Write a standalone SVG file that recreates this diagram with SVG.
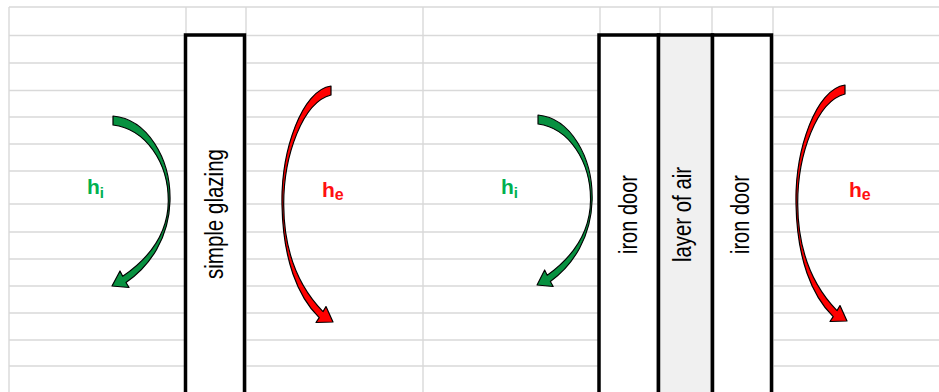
<svg xmlns="http://www.w3.org/2000/svg" width="939" height="392" viewBox="0 0 939 392">
<style>
.grid line{stroke:#d9d9d9;stroke-width:1.4}
.wall{stroke:#000;stroke-width:3.5;fill:#fff}
.air{fill:#f0f0f0}
.lbl{font-family:"Liberation Sans",Arial,sans-serif;font-size:26px;fill:#000}
.gA{fill:#079140;stroke:#000;stroke-width:1.2;stroke-linejoin:round}
.rA{fill:#ff0000;stroke:#000;stroke-width:1.2;stroke-linejoin:round}
.h{font-family:"Liberation Sans",Arial,sans-serif;font-size:21px;font-weight:bold}
.hg{fill:#00b050}
.hr{fill:#ff1010}
</style>
<defs>
<path id="greenArc" d="M113,116 C147,119 171,158 170,201 C169,238 150,266 126,282.5 L129,287.5 L112,286 L120,271 L122.7,276.3 C148,259 168,236 168.3,201 C168.5,163 146,129 113,125 Z"/>
<path id="redArc" d="M331,86 C302,90 281,150 282,205 C283,260 298,297 319.2,317.6 L316,322.5 L333,322 L326,306.5 L323,311.6 C302,290 284,258 283.7,205 C283.5,155 303,102 331,95 Z"/>
</defs>
<rect width="939" height="392" fill="#fff"/>
<g class="grid" id="grid">
<line x1="9" y1="7" x2="939" y2="7"/>
<line x1="9" y1="35.5" x2="939" y2="35.5"/>
<line x1="9" y1="63" x2="939" y2="63"/>
<line x1="9" y1="90.5" x2="939" y2="90.5"/>
<line x1="9" y1="117" x2="939" y2="117"/>
<line x1="9" y1="144" x2="939" y2="144"/>
<line x1="9" y1="171" x2="939" y2="171"/>
<line x1="9" y1="204" x2="939" y2="204"/>
<line x1="9" y1="232" x2="939" y2="232"/>
<line x1="9" y1="259" x2="939" y2="259"/>
<line x1="9" y1="286" x2="939" y2="286"/>
<line x1="9" y1="313" x2="939" y2="313"/>
<line x1="9" y1="340" x2="939" y2="340"/>
<line x1="9" y1="366" x2="939" y2="366"/>
<line x1="9" y1="7" x2="9" y2="392"/>
<line x1="186" y1="7" x2="186" y2="392"/>
<line x1="246" y1="7" x2="246" y2="392"/>
<line x1="423" y1="7" x2="423" y2="392"/>
<line x1="600" y1="7" x2="600" y2="392"/>
<line x1="660" y1="7" x2="660" y2="392"/>
<line x1="712" y1="7" x2="712" y2="392"/>
<line x1="773" y1="7" x2="773" y2="392"/>
</g>
<g id="simple-glazing">
<rect class="wall" x="185.5" y="35" width="59" height="380"/>
<text class="lbl" transform="translate(223 214) rotate(-90)" text-anchor="middle" textLength="130" lengthAdjust="spacingAndGlyphs">simple glazing</text>
</g>
<g id="iron-door-1">
<rect class="wall" x="599" y="35" width="59.5" height="380"/>
<text class="lbl" transform="translate(637 214.5) rotate(-90)" text-anchor="middle" textLength="79" lengthAdjust="spacingAndGlyphs">iron door</text>
</g>
<g id="layer-of-air">
<rect class="wall air" x="658.5" y="35" width="54" height="380"/>
<text class="lbl" transform="translate(691 214.5) rotate(-90)" text-anchor="middle" textLength="95" lengthAdjust="spacingAndGlyphs">layer of air</text>
</g>
<g id="iron-door-2">
<rect class="wall" x="712.5" y="35" width="59" height="380"/>
<text class="lbl" transform="translate(749 214.5) rotate(-90)" text-anchor="middle" textLength="79" lengthAdjust="spacingAndGlyphs">iron door</text>
</g>
<g id="connectors">
<use href="#greenArc" class="gA"/>
<use href="#redArc" class="rA"/>
<use href="#greenArc" class="gA" transform="matrix(0.95 0 0 1 430.65 -1)"/>
<use href="#redArc" class="rA" transform="translate(514 -1)"/>
</g>
<g id="label-hi-left"><text class="h hg" x="87" y="194">h<tspan font-size="15" dy="4">i</tspan></text></g>
<g id="label-he-left"><text class="h hr" x="322" y="197">h<tspan font-size="16" dy="3">e</tspan></text></g>
<g id="label-hi-right"><text class="h hg" x="501" y="194">h<tspan font-size="15" dy="4">i</tspan></text></g>
<g id="label-he-right"><text class="h hr" x="849" y="197">h<tspan font-size="16" dy="3">e</tspan></text></g>
</svg>
